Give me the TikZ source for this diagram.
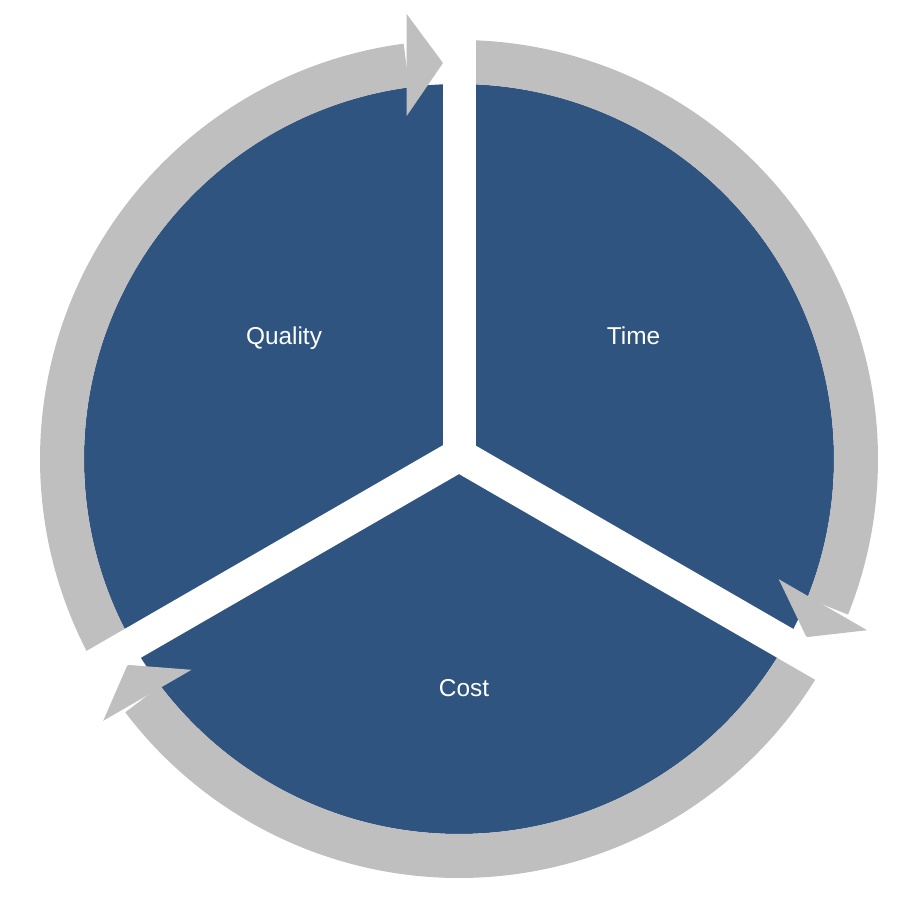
\documentclass[tikz,border=0pt]{standalone}
\usepackage{fontspec}
\setmainfont{Liberation Sans}
\definecolor{segblue}{RGB}{47,84,128}
\definecolor{ringgray}{RGB}{191,191,191}

\begin{document}
\begin{tikzpicture}[x=0.5pt,y=0.5pt,
  segtext/.style={text=white,font=\fontsize{12.2}{14}\selectfont,anchor=base},
  ringpart/.style={fill=ringgray},
  gapband/.style={fill=white}]
\useasboundingbox (-459,-460) rectangle (460,459);
\fill[segblue] (0,0) circle (375);
\fill[ringpart] (209.5:375) arc (209.5:97.6:375) -- (97.6:419) arc (97.6:209.5:419) -- cycle;
\fill[ringpart] (90:375) arc (90:-21.8:375) -- (-21.8:419) arc (-21.8:90:419) -- cycle;
\fill[ringpart] (-29.5:375) arc (-29.5:-142.8:375) -- (-142.8:419) arc (-142.8:-29.5:419) -- cycle;
\foreach \rot in {0,-120,-240}
  \fill[ringpart,rotate around={\rot:(0,4)}] (-16,396) -- (-52.3,445) -- (-52.3,343) -- cycle;
\foreach \ang in {90,-30,210}
  \fill[gapband,rotate around={\ang:(0,4)}] (-5,-12.5) rectangle (480,20.5);
\node[segtext] (quality) at (-175,114) {Quality};
\node[segtext] (time) at (174.5,114) {Time};
\node[segtext] (cost) at (5,-237) {Cost};
\end{tikzpicture}
\end{document}
